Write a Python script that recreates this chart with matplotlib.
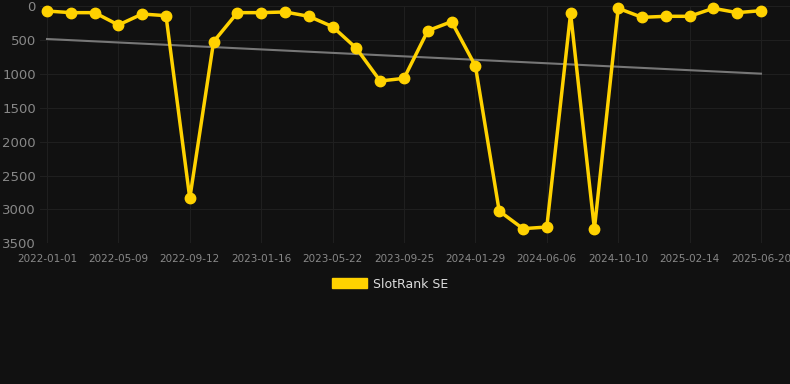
import numpy as np
import matplotlib
matplotlib.use("Agg")
import matplotlib.pyplot as plt
from matplotlib.patches import Patch

# rank values (lower is better, axis is inverted)
ranks = [74, 98, 98, 280, 118, 143, 2837, 526, 98, 98, 88, 152, 305, 624, 1106,
         1067, 364, 231, 885, 3024, 3284, 3260, 108, 3289, 34, 167, 152, 152, 34, 98, 69]
tick_labels = ["2022-01-01", "2022-05-09", "2022-09-12", "2023-01-16", "2023-05-22",
               "2023-09-25", "2024-01-29", "2024-06-06", "2024-10-10", "2025-02-14", "2025-06-20"]
trend_ends = [487, 998]
yticks = [0, 500, 1000, 1500, 2000, 2500, 3000, 3500]

bg = "#111111"
gold = "#FFD200"

fig = plt.figure(figsize=(7.9, 3.84), dpi=100, facecolor=bg)
W, H = 790, 384
ax = fig.add_axes([40 / W, 1 - 243.3 / H, 750 / W, (243.3 - 6) / H], facecolor=bg)

x = np.arange(len(ranks))
step = 23.8
ax.set_xlim(-7 / step, (750 - 7) / step)
ax.set_ylim(3500, 0)

ax.plot([x[0], x[-1]], trend_ends, color="#777777", lw=1.5, zorder=2)
ax.plot(x, ranks, color=gold, lw=2.5, marker="o", ms=7.5, solid_joinstyle="miter",
        zorder=3, clip_on=False)

ax.set_xticks(x[::3])
ax.set_xticklabels(tick_labels)
ax.set_yticks(yticks)
ax.tick_params(axis="x", colors="#888888", labelsize=7.5, length=0, pad=8)
ax.tick_params(axis="y", colors="#888888", labelsize=9.5, length=0, pad=3)
ax.grid(True, color="#1f1f1f", lw=0.8)
for s in ax.spines.values():
    s.set_visible(False)

fig.legend(handles=[Patch(color=gold, label="SlotRank SE")], loc="center",
           bbox_to_anchor=(390 / W, 1 - 284 / H), frameon=False,
           labelcolor="#dddddd", fontsize=9, handlelength=2.8, handleheight=0.9,
           handletextpad=0.5)

fig.savefig("out.png", dpi=100, facecolor=bg)
